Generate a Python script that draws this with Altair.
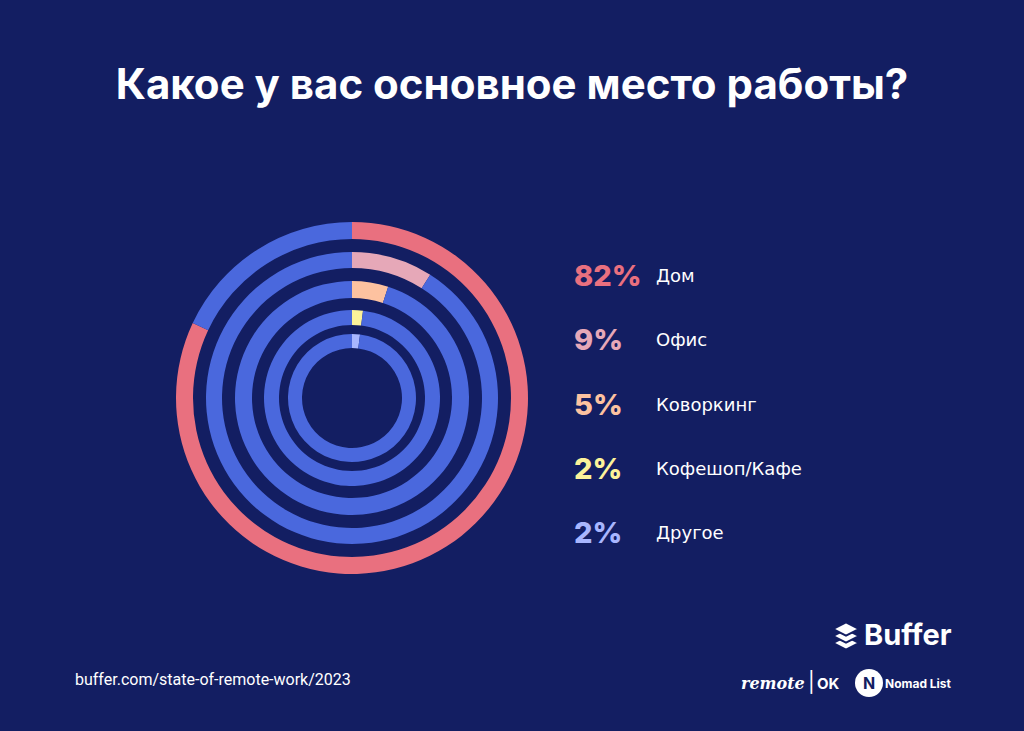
import math
import altair as alt
import pandas as pd

# ---- data ----
categories = ["Дом", "Офис", "Коворкинг", "Кофешоп/Кафе", "Другое"]
values = [82, 9, 5, 2, 2]
pct_labels = ["82%", "9%", "5%", "2%", "2%"]

BG = "#131E62"
BLUE = "#4A68DD"
seg_colors = ["#E9707F", "#E6A8B8", "#FDC2A0", "#FCF29A", "#A8B6FE"]

# ---- tables ----
rows = []
for cat, v in zip(categories, values):
    rows.append({"ring": cat, "seg": cat, "start": 0, "end": v})
    rows.append({"ring": cat, "seg": "rest", "start": v, "end": 100})
arcs = pd.DataFrame(rows)
legend_df = pd.DataFrame({"cat": categories, "pct": pct_labels})

theta_scale = alt.Scale(domain=[0, 100], range=[0, 2 * math.pi])
color_scale = alt.Scale(domain=categories + ["rest"], range=seg_colors + [BLUE])

CX, CY = 352, 398
outer = [176, 146, 117, 88, 64]
inner = [159, 130, 100, 73, 50]

layers = []
for i, cat in enumerate(categories):
    layers.append(
        alt.Chart(arcs)
        .transform_filter(alt.datum.ring == cat)
        .mark_arc(radius=outer[i], radius2=inner[i], stroke=None)
        .encode(
            theta=alt.Theta("start:Q", scale=theta_scale),
            theta2="end:Q",
            color=alt.Color("seg:N", scale=color_scale, legend=None),
            x=alt.value(CX),
            y=alt.value(CY),
        )
    )

y_scale = alt.Scale(domain=categories, range=[277, 534], type="point", padding=0)

pct_text = (
    alt.Chart(legend_df)
    .mark_text(align="left", baseline="middle", font="Inter", fontWeight=800, fontSize=29)
    .encode(
        x=alt.value(574),
        y=alt.Y("cat:N", scale=y_scale, axis=None),
        text="pct:N",
        color=alt.Color("cat:N", scale=alt.Scale(domain=categories, range=seg_colors), legend=None),
    )
)

label_text = (
    alt.Chart(legend_df)
    .mark_text(align="left", baseline="middle", font="DejaVu Sans", fontSize=18, color="white")
    .encode(
        x=alt.value(656),
        y=alt.Y("cat:N", scale=y_scale, axis=None),
        text="cat:N",
    )
)

def txt(s, x, y, size, weight="normal", font="Inter", align="left", color="white", style="normal"):
    return alt.Chart(pd.DataFrame({"t": [s]})).mark_text(
        align=align, baseline="middle", font=font, fontSize=size,
        fontWeight=weight, color=color, fontStyle=style,
    ).encode(x=alt.value(x), y=alt.value(y), text="t:N")

title = txt("Какое у вас основное место работы?", 512, 86, 42, weight="bold", font="Inter", align="center")
footer = txt("buffer.com/state-of-remote-work/2023", 75, 680, 16, font="Roboto")
buffer_word = txt("Buffer", 864, 636, 29, weight="bold", font="Inter")

diamond = "M-1,0L0,-0.5L1,0L0,0.5Z"
icon_layers = []
for yy in [643, 636, 629]:
    icon_layers.append(
        alt.Chart(pd.DataFrame({"k": [0]}))
        .mark_point(shape=diamond, filled=True, fill="white", stroke=BG, strokeWidth=2, size=700, opacity=1)
        .encode(x=alt.value(846), y=alt.value(yy))
    )

remote_word = txt("remote", 741, 684, 16, weight="bold", font="DejaVu Serif", style="italic")
bar_sep = txt("|", 808, 683, 20, font="Inter")
ok_word = txt("OK", 817, 684, 15, weight="bold", font="Inter")
nomad_circle = (
    alt.Chart(pd.DataFrame({"k": [0]}))
    .mark_point(shape="circle", filled=True, fill="white", size=784, opacity=1)
    .encode(x=alt.value(869), y=alt.value(683))
)
nomad_n = txt("N", 869, 684, 16, weight="bold", font="Inter", align="center", color=BG)
nomad_word = txt("Nomad List", 885, 684, 12, weight="bold", font="Inter")

chart = alt.layer(
    *layers, pct_text, label_text, title, footer, buffer_word, *icon_layers,
    remote_word, bar_sep, ok_word, nomad_circle, nomad_n, nomad_word,
).properties(
    width=1024, height=731, background=BG,
    autosize=alt.AutoSizeParams(type="none"), padding=0,
).configure_view(stroke=None)

chart.save("out.html", embed_options={"renderer": "svg", "actions": False})
